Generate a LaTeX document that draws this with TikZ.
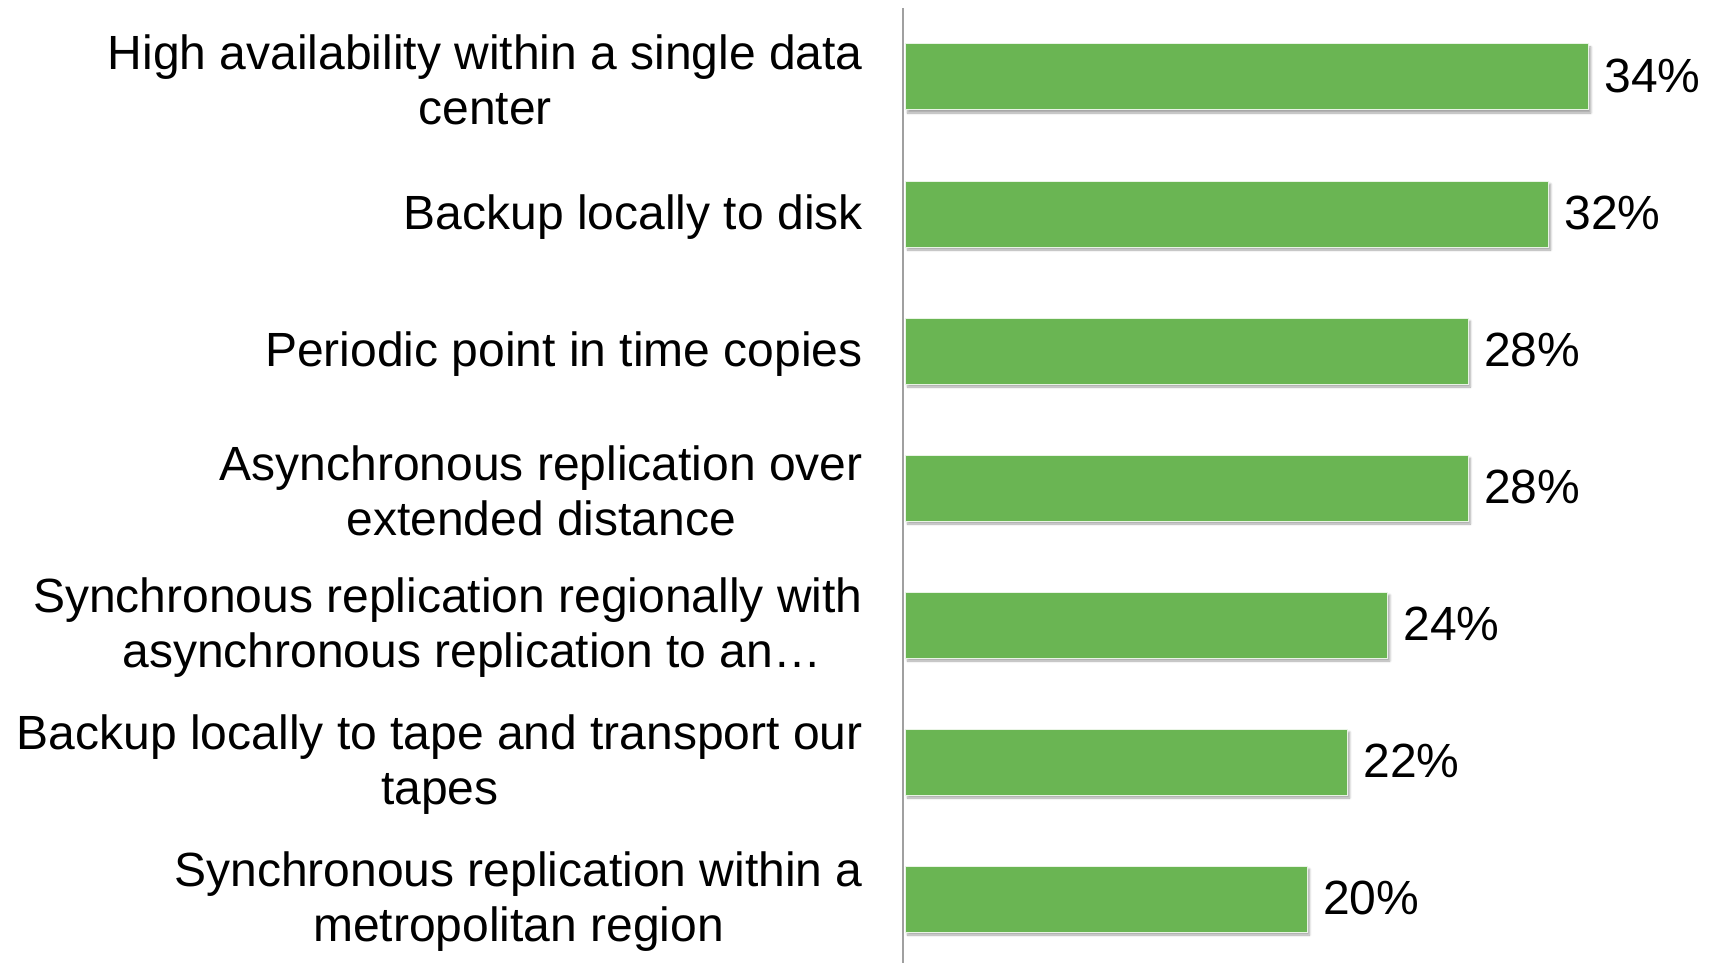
\documentclass[tikz,border=0pt]{standalone}
\usepackage{fontspec}
\setmainfont{Liberation Sans}
\usetikzlibrary{shadows.blur}
\definecolor{bargreen}{RGB}{106,181,83}
\definecolor{axisgray}{RGB}{160,160,160}
\begin{document}
\begin{tikzpicture}[x=1pt,y=-1pt,
  bar/.style={fill=bargreen,draw=white!85!bargreen,line width=1pt,
    blur shadow={shadow xshift=2pt,shadow yshift=-3pt,shadow blur steps=6,shadow opacity=35}},
  cat/.style={anchor=east,align=center,font=\fontsize{48}{55}\selectfont,inner sep=0pt},
  val/.style={anchor=west,font=\fontsize{48}{55}\selectfont,inner sep=0pt}]
  \useasboundingbox (0,0) rectangle (1716,963);
  % value scale: 20.1 units per percent, bars start at the axis
  \def\xz{905}
  \def\sc{20.1}
  \def\bh{66}
  \foreach \i/\v/\t [count=\n] in {
    0/34/{High availability within a single data\\center},
    1/32/{Backup locally to disk},
    2/28/{Periodic point in time copies},
    3/28/{Asynchronous replication over\\extended distance},
    4/24/{Synchronous replication regionally with\\\hspace*{48pt}asynchronous replication to an…},
    5/22/{Backup locally to tape and transport our\\tapes},
    6/20/{Synchronous replication within a\\metropolitan region}} {
    \pgfmathsetmacro\yc{77+137*\i}
    \node[bar,minimum width=\sc*\v*1pt,minimum height=\bh*1pt,anchor=west,inner sep=0pt]
      (b\n) at (\xz,\yc) {};
    \node[val] (v\n) at ([xshift=15pt,yshift=1pt]b\n.east) {\v\%};
    \node[cat] (c\n) at (863,\yc+3) {\t};
  }
  \coordinate (axtop) at (903,8);
  \coordinate (axbot) at (903,963);
  \draw[axisgray,line width=2pt] (axtop) -- (axbot);
\end{tikzpicture}
\end{document}
